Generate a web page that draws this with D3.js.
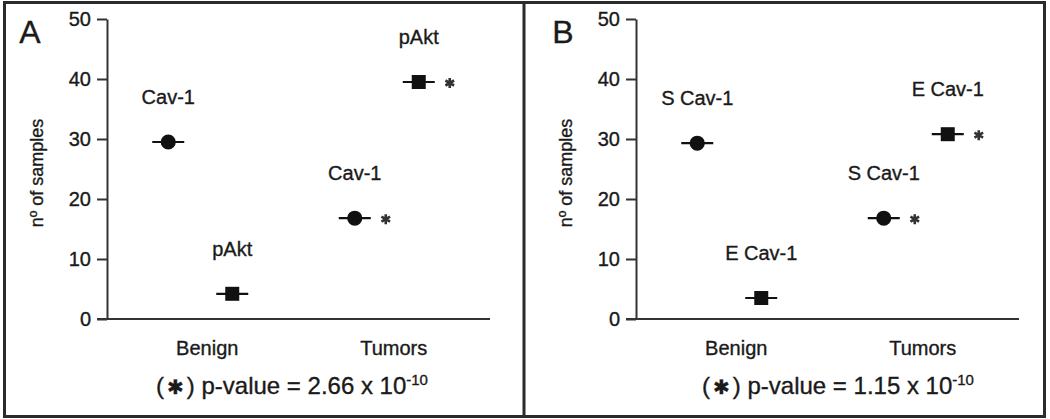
<!DOCTYPE html>
<html>
<head>
<meta charset="utf-8">
<script src="https://cdn.jsdelivr.net/npm/d3@7"></script>
<style>
  html, body { margin: 0; padding: 0; background: #fff; }
  svg { display: block; font-family: "Liberation Sans", Arial, Helvetica, sans-serif; }
  svg text { stroke: #1a1a1a; stroke-width: 0.35px; paint-order: stroke; }
</style>
</head>
<body>
<svg id="chart" width="1050" height="419"></svg>
<script>
// ---- data ----
const categories = ["Benign", "Tumors"];
const yTicks = [0, 10, 20, 30, 40, 50];
const yLabel = "nº of samples";

const seriesA = ["Cav-1", "pAkt"];
const benignA = [29.5, 4.2];
const tumorsA = [16.8, 39.5];
const signifA = [true, true];          // asterisk on tumor values
const pValueA = "2.66 x 10";
const pExpA = "-10";

const seriesB = ["S Cav-1", "E Cav-1"];
const benignB = [29.3, 3.5];
const tumorsB = [16.8, 30.8];
const signifB = [true, true];
const pValueB = "1.15 x 10";
const pExpB = "-10";

// ---- drawing ----
const svg = d3.select("#chart");
const ink = "#1a1a1a";
const lineCol = "#333";

// outer frame and divider
svg.append("rect").attr("x", 4.5).attr("y", 2.5).attr("width", 1040).attr("height", 414)
  .attr("fill", "none").attr("stroke", "#2b2b2b").attr("stroke-width", 3);
svg.append("line").attr("x1", 524).attr("x2", 524).attr("y1", 2).attr("y2", 417)
  .attr("stroke", "#2b2b2b").attr("stroke-width", 3);

const y = d3.scaleLinear().domain([0, 50]).range([319, 19]);

function drawPanel(cfg) {
  const ox = cfg.ox;
  const g = svg.append("g");
  const x = d3.scalePoint().domain(categories).range([ox + 107, ox + 480]).padding(0.5);
  const off = d3.scalePoint().domain(cfg.series).range([-32, 32]);

  // panel letter
  g.append("text").attr("x", cfg.letterX).attr("y", 43).attr("text-anchor", "middle")
    .attr("font-size", 32).attr("fill", ink).text(cfg.letter);

  // y axis
  const ya = g.append("g").attr("transform", `translate(${ox + 107},0)`)
    .call(d3.axisLeft(y).tickValues(yTicks).tickSize(10).tickPadding(6).tickSizeOuter(0).tickFormat(d3.format("d")));
  ya.select(".domain").attr("stroke", lineCol).attr("stroke-width", 2);
  ya.selectAll(".tick line").attr("stroke", lineCol).attr("stroke-width", 2);
  ya.selectAll(".tick text").attr("font-size", 20).attr("fill", ink)
    .attr("font-family", "Liberation Sans, Arial, sans-serif");

  // x axis baseline
  g.append("line").attr("x1", ox + 97).attr("x2", ox + 490)
    .attr("y1", y(0)).attr("y2", y(0)).attr("stroke", lineCol).attr("stroke-width", 2);

  // y label
  g.append("text").attr("transform", `translate(${ox + 43},173) rotate(-90)`)
    .attr("text-anchor", "middle").attr("font-size", 18).attr("fill", ink).text(yLabel);

  // category labels
  g.selectAll(".cat").data(categories).join("text").attr("class", "cat")
    .attr("x", d => x(d) + 7).attr("y", 355).attr("text-anchor", "middle")
    .attr("font-size", 20).attr("fill", ink).text(d => d);

  // points
  const pts = [];
  cfg.series.forEach((s, i) => {
    pts.push({ cat: "Benign", s, v: cfg.benign[i], shape: i, sig: false });
    pts.push({ cat: "Tumors", s, v: cfg.tumors[i], shape: i, sig: cfg.signif[i] });
  });

  const pg = g.selectAll(".pt").data(pts).join("g").attr("class", "pt")
    .attr("transform", d => `translate(${x(d.cat) + off(d.s)},${y(d.v)})`);
  pg.append("line").attr("x1", -16).attr("x2", 16).attr("y1", 0).attr("y2", 0)
    .attr("stroke", "#111").attr("stroke-width", 2.2);
  pg.append("path")
    .attr("d", d => d3.symbol(d.shape === 0 ? d3.symbolCircle : d3.symbolSquare, d.shape === 0 ? 180 : 196)())
    .attr("fill", "#111");
  pg.filter(d => d.sig).append("path")
    .attr("transform", "translate(31,1)")
    .attr("d", d3.symbol(d3.symbolAsterisk, 70)())
    .attr("fill", "none").attr("stroke", "#333").attr("stroke-width", 2.6);
  pg.append("text").attr("x", 0).attr("y", -38).attr("text-anchor", "middle")
    .attr("font-size", 20).attr("fill", ink).text(d => d.s);

  // footnote
  const ft = g.append("text").attr("x", cfg.footX).attr("y", 394).attr("text-anchor", "middle")
    .attr("font-size", 24).attr("fill", ink);
  ft.append("tspan").text("(");
  ft.append("tspan").attr("dx", 3).attr("font-size", 20).attr("font-family", "DejaVu Sans").text("✱");
  ft.append("tspan").attr("dx", 3).text(")");
  ft.append("tspan").attr("dx", 0).text(" p-value = " + cfg.pValue);
  ft.append("tspan").attr("dy", -9).attr("font-size", 15).text(cfg.pExp);
}

drawPanel({ ox: 0, letter: "A", letterX: 30, series: seriesA, benign: benignA, tumors: tumorsA,
  signif: signifA, pValue: pValueA, pExp: pExpA, footX: 292 });
drawPanel({ ox: 529, letter: "B", letterX: 563, series: seriesB, benign: benignB, tumors: tumorsB,
  signif: signifB, pValue: pValueB, pExp: pExpB, footX: 838 });
</script>
</body>
</html>
